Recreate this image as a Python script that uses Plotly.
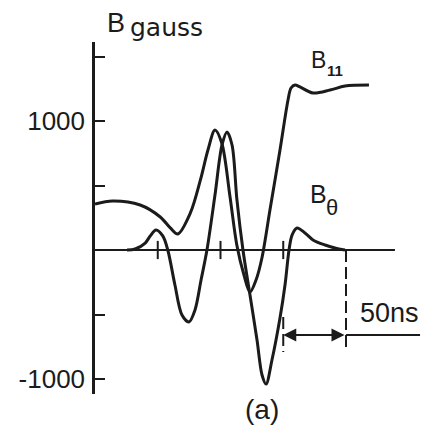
import plotly.graph_objects as go

# ---- data (time in ns, field in gauss) ----
b_par_t = [0, 14, 36, 52, 60, 66, 76, 84, 90, 95.6, 101, 107.6, 113, 118.7, 123.5,
           128.3, 133, 139.4, 147.4, 153.8, 156.2, 159.4, 163.3, 173.7, 187.3, 199.2, 218.3]
b_par_v = [357, 380, 349, 256, 171, 124, 287, 543, 775, 930, 829, 411, 39, -194, -326,
           -233, -62, 310, 775, 1163, 1256, 1279, 1264, 1217, 1240, 1271, 1279]

b_theta_t = [25.5, 32, 40, 44, 48.6, 54, 58, 63.7, 69.3, 74.9, 79.7, 84.5, 89.2, 95.6,
             101.2, 105.2, 109.2, 113.1, 117.9, 123.5, 129.1, 133.1, 136.3, 141, 147.4,
             151.4, 154.6, 157, 161, 167.3, 173.7, 183.3, 191.2, 199.2]
b_theta_v = [0, 8, 54, 109, 155, 109, 0, -271, -504, -558, -465, -233, 0, 426,
             814, 915, 814, 388, 0, -349, -698, -969, -1039, -853, -527,
             -271, 0, 116, 171, 132, 78, 39, 16, 0]

x_axis_end = 239
x_ticks = [50, 100, 150]
y_label_vals = [-1000, 1000]
y_label_text = ["-1000", "1000"]
y_minor_vals = [-500, 500, 1500]
scale_start, scale_end = 150, 200
scale_level = -659
scale_line_end = 259
dash_right = [0, -775]
dash_left = [-519, -791]

ink = "#1b1b1b"
fig = go.Figure()

fig.add_trace(go.Scatter(x=[0, x_axis_end], y=[0, 0], mode="lines",
                         line=dict(color=ink, width=2), hoverinfo="skip"))
fig.add_trace(go.Scatter(x=x_ticks, y=[0] * len(x_ticks), mode="markers",
                         marker=dict(symbol="line-ns", size=13,
                                     line=dict(color=ink, width=2)), hoverinfo="skip"))
fig.add_trace(go.Scatter(x=b_par_t, y=b_par_v, mode="lines", name="B11",
                         line=dict(color=ink, width=3, shape="spline", smoothing=0.9)))
fig.add_trace(go.Scatter(x=b_theta_t, y=b_theta_v, mode="lines", name="Btheta",
                         line=dict(color=ink, width=3, shape="spline", smoothing=0.9)))
fig.add_trace(go.Scatter(x=[scale_end, scale_end], y=dash_right, mode="lines",
                         line=dict(color=ink, width=2, dash="12px,5px"), hoverinfo="skip"))
fig.add_trace(go.Scatter(x=[scale_start, scale_start], y=dash_left, mode="lines",
                         line=dict(color=ink, width=2, dash="12px,5px"), hoverinfo="skip"))
fig.add_trace(go.Scatter(x=[scale_end, scale_line_end], y=[scale_level, scale_level],
                         mode="lines", line=dict(color=ink, width=2), hoverinfo="skip"))

fig.add_annotation(x=scale_start, y=scale_level, ax=scale_end, ay=scale_level,
                   xref="x", yref="y", axref="x", ayref="y", text="",
                   showarrow=True, arrowside="end+start", arrowhead=2,
                   arrowsize=1.3, arrowwidth=2, arrowcolor=ink)

font_main = "Liberation Sans, Arial, sans-serif"
font_wide = "DejaVu Sans, sans-serif"
ann = [
    dict(text="B", x=0.030, y=1.055, size=27, xanchor="left", fam=font_main),
    dict(text="gauss", x=0.099, y=1.040, size=25, xanchor="left", fam=font_wide),
    dict(text="B", x=0.651, y=0.949, size=23, xanchor="left", fam=font_main),
    dict(text="<b>11</b>", x=0.729, y=0.92, size=15, xanchor="center", fam=font_main),
    dict(text="B", x=0.647, y=0.568, size=25, xanchor="left", fam=font_main),
    dict(text="θ", x=0.720, y=0.531, size=22, xanchor="center", fam=font_main),
    dict(text="50ns", x=0.894, y=0.230, size=27, xanchor="center", fam=font_main),
    dict(text="(a)", x=0.508, y=-0.045, size=28, xanchor="center", fam=font_main),
]
for a in ann:
    fig.add_annotation(text=a["text"], x=a["x"], y=a["y"], xref="paper", yref="paper",
                       xanchor=a["xanchor"], yanchor="middle", showarrow=False,
                       font=dict(family=a["fam"], size=a["size"], color=ink))

fig.update_layout(
    width=424, height=425,
    margin=dict(l=95, r=0, t=42, b=31),
    paper_bgcolor="white", plot_bgcolor="white",
    showlegend=False,
    xaxis=dict(range=[0, 262.15], visible=False),
    yaxis=dict(range=[-1116.3, 1612.4], showgrid=False, zeroline=False,
               showline=True, linecolor=ink, linewidth=2.5,
               ticks="inside", ticklen=10, tickwidth=2, tickcolor=ink,
               tickvals=y_label_vals, ticktext=y_label_text, ticklabelstandoff=2,
               tickfont=dict(family=font_main, size=26, color=ink),
               minor=dict(tickvals=y_minor_vals, ticks="inside", ticklen=10,
                          tickwidth=2, tickcolor=ink, showgrid=False)),
)

fig.write_html("out.html")
